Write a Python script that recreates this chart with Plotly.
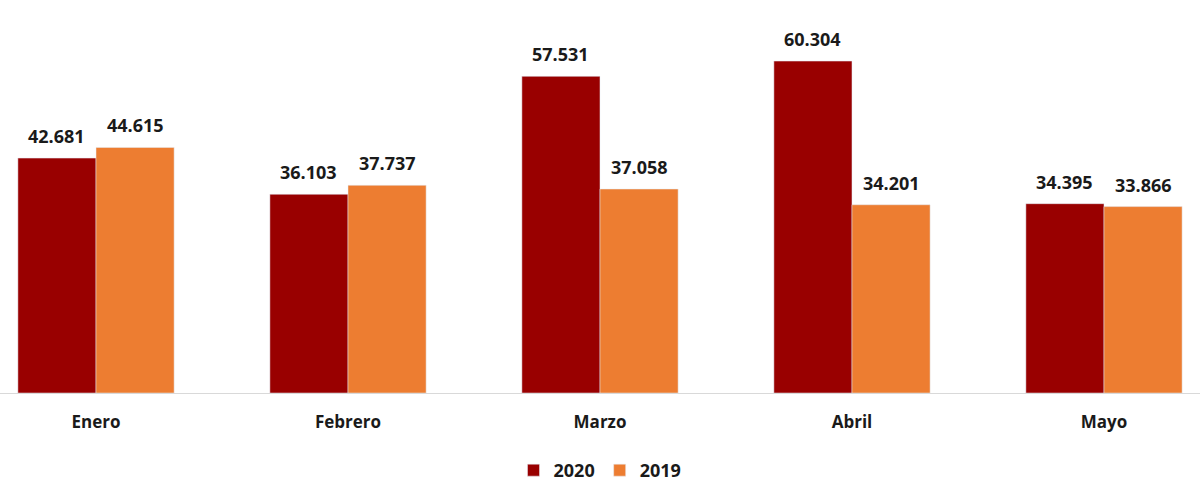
import plotly.graph_objects as go

months = ["Enero", "Febrero", "Marzo", "Abril", "Mayo"]
v2020 = [42681, 36103, 57531, 60304, 34395]
v2019 = [44615, 37737, 37058, 34201, 33866]

font_fam = "Open Sans, Liberation Sans, sans-serif"
label_font = dict(size=18, color="#1a1a1a", family=font_fam, weight="bold")

fig = go.Figure()
fig.add_trace(go.Bar(name="2020", x=months, y=v2020, marker_color="#990000", offsetgroup="a"))
fig.add_trace(go.Bar(name="2019", x=months, y=v2019, marker_color="#ED7D31", offsetgroup="b"))

# value labels, positioned via the axis scale (group offsets of 0.31 category)
for vals, off in ((v2020, -0.155), (v2019, 0.155)):
    for i, v in enumerate(vals):
        fig.add_annotation(x=i + off, y=v, text=f"{v:,}".replace(",", "."),
                           showarrow=False, yanchor="bottom", yshift=8,
                           font=label_font)

fig.update_layout(
    width=1200, height=500,
    margin=dict(l=0, r=0, t=0, b=107),
    plot_bgcolor="white", paper_bgcolor="white",
    barmode="group", bargap=0.38, bargroupgap=0,
    separators=",.",
    showlegend=True,
    legend=dict(orientation="h", x=0.5, xanchor="center", y=-0.15, yanchor="top",
                font=dict(size=18, family=font_fam, color="#1a1a1a", weight="bold"),
                itemwidth=30, traceorder="normal"),
    font=dict(family=font_fam),
)
fig.update_xaxes(range=[-0.381, 4.381], showline=True, linecolor="#d9d9d9", linewidth=1,
                 tickfont=dict(size=17, family=font_fam, color="#1a1a1a", weight="bold"),
                 ticks="", ticklabelstandoff=14)
fig.update_yaxes(range=[0, 71400], visible=False, showgrid=False, zeroline=False)

fig.write_html("out.html")
